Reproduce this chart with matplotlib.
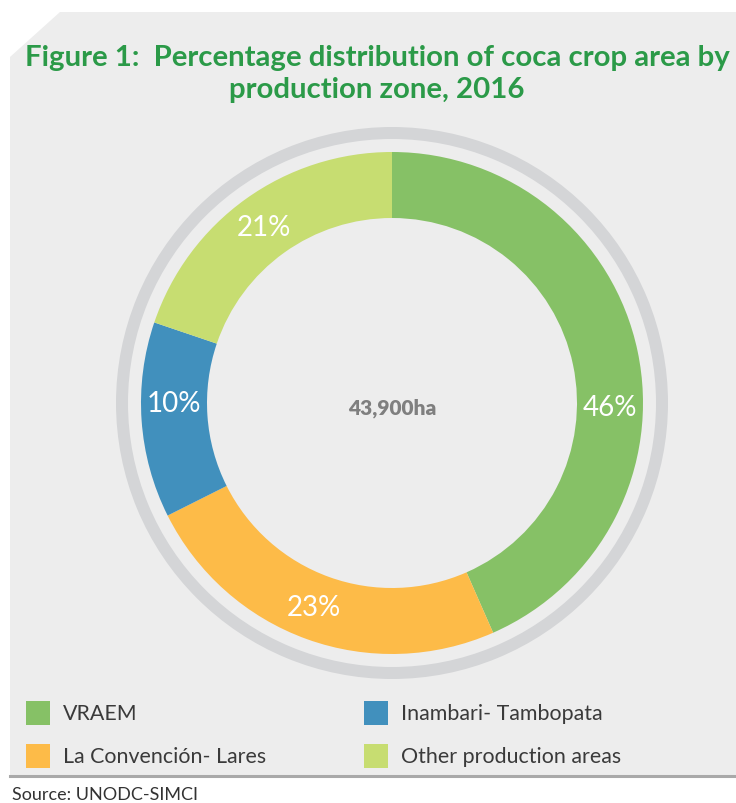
import matplotlib
matplotlib.use("Agg")
import matplotlib.pyplot as plt
from matplotlib.patches import Polygon, Wedge, Rectangle
import numpy as np

plt.rcParams['font.family'] = ['Lato', 'DejaVu Sans']

# datos
zones = ["VRAEM", "La Convención- Lares", "Inambari- Tambopata", "Other production areas"]
shares = [43.4, 24.2, 12.6, 19.8]          # tamaño de los arcos tal como se ven
pct_labels = ["46%", "23%", "10%", "21%"]   # etiquetas impresas
colors = ["#86c166", "#fdbb48", "#4190bd", "#c7dd71"]
total_label = "43,900ha"
title = "Figure 1:  Percentage distribution of coca crop area by\nproduction zone, 2016"
source = "Source: UNODC-SIMCI"

W, H = 736, 804
fig = plt.figure(figsize=(W / 100, H / 100), dpi=100, facecolor="white")
ax = fig.add_axes([0, 0, 1, 1])

def Y(y):
    # coordenadas de imagen -> datos
    return H - y

# panel gris con esquina cortada
panel = Polygon([(10, Y(58)), (60, Y(13)), (736, Y(13)), (736, Y(776)), (10, Y(776))],
                closed=True, facecolor="#ededed", edgecolor="none", zorder=0)
ax.add_patch(panel)
ax.plot([10, 736], [Y(777), Y(777)], color="#a9a9a9", lw=2.2, zorder=1)

cx, cy = 392, Y(404)

# anillo gris exterior
ax.add_patch(Wedge((cx, cy), 276, 0, 360, width=12, facecolor="#d4d5d7", edgecolor="none", zorder=1))

# dona
ax.pie(shares, colors=colors, radius=251, center=(cx, cy), startangle=90,
       counterclock=False, wedgeprops=dict(width=66, edgecolor="none"))

label_angles = [-1, 249, 180, 126]
for lab, ang in zip(pct_labels, label_angles):
    r = 218
    ax.text(cx + r * np.cos(np.radians(ang)), cy + r * np.sin(np.radians(ang)), lab,
            ha="center", va="center", color="white", fontsize=20, zorder=5)

ax.text(cx, Y(408), total_label, ha="center", va="center", color="#7f7f7f",
        fontsize=15, fontweight="heavy", zorder=5)

# titulo
ax.text(377, Y(74), title, ha="center", va="center", color="#2b9a48",
        fontsize=21.2, fontweight="bold", linespacing=1.25, zorder=5)

# leyenda
leg_pos = [(26, 714), (26, 757), (364, 714), (364, 757)]
for (lx, ly), name, c in zip(leg_pos, zones, colors):
    ax.add_patch(Rectangle((lx, Y(ly) - 12), 24, 24, facecolor=c, edgecolor="none", zorder=3))
    ax.text(lx + 37, Y(ly), name, ha="left", va="center", color="#3a3a3a", fontsize=15.4, zorder=5)

ax.text(12, Y(795), source, ha="left", va="center", color="#333333", fontsize=13, zorder=5)

ax.set_xlim(0, W)
ax.set_ylim(0, H)
ax.set_aspect("equal")
ax.axis("off")

fig.savefig("out.png", dpi=100, facecolor="white")
